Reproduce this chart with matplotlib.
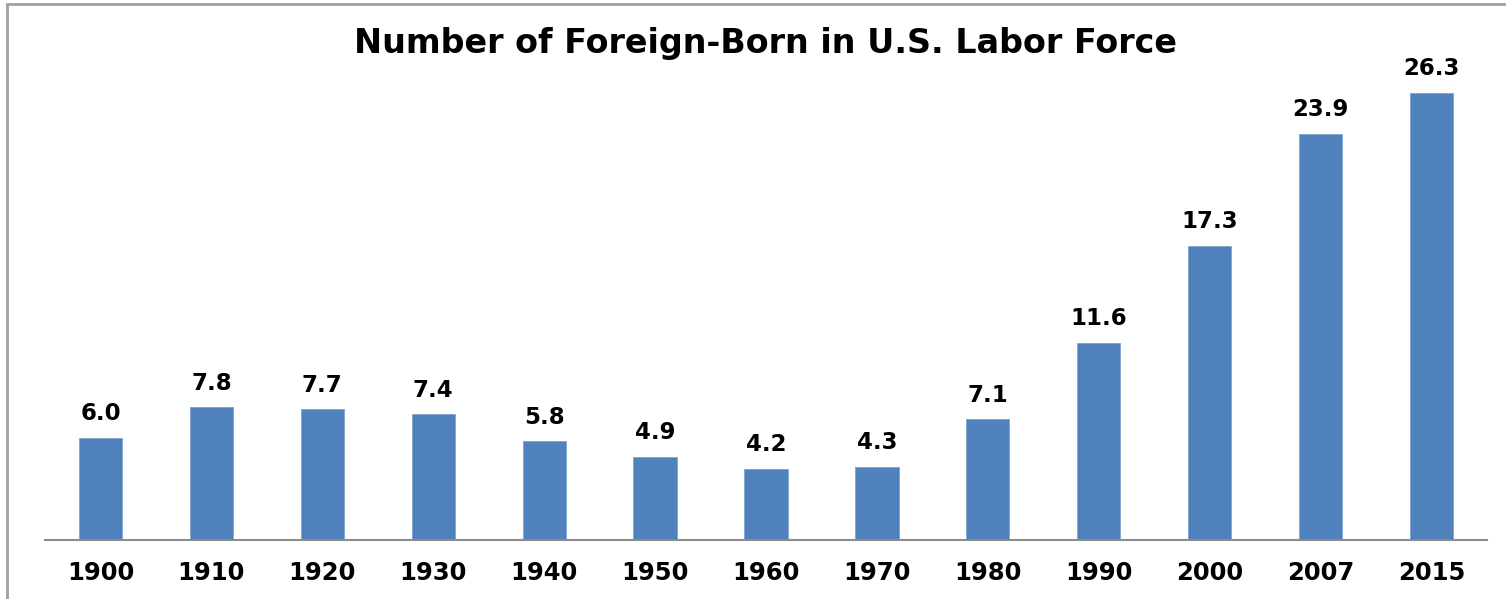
import matplotlib
matplotlib.use("Agg")
import matplotlib.pyplot as plt
from matplotlib.patches import Rectangle

years = ["1900", "1910", "1920", "1930", "1940", "1950", "1960", "1970", "1980", "1990", "2000", "2007", "2015"]
values = [6.0, 7.8, 7.7, 7.4, 5.8, 4.9, 4.2, 4.3, 7.1, 11.6, 17.3, 23.9, 26.3]
title = "Number of Foreign-Born in U.S. Labor Force"

W, H = 1506, 599
fig = plt.figure(figsize=(W / 100, H / 100), dpi=100)
fig.patch.set_facecolor("white")

# outer border (cropped at right and bottom)
fig.patches.append(Rectangle((7 / W, -0.1), 1.2, (H - 4) / H + 0.1, transform=fig.transFigure,
                             fill=False, edgecolor="#a0a0a0", linewidth=2))

left, right, bottom, top = 45, 1487, 540, 50
ax = fig.add_axes([left / W, (H - bottom) / H, (right - left) / W, (bottom - top) / H])
ymax = (bottom - top) / 17.0
x = list(range(len(years)))
ax.bar(x, values, width=0.39, color="#4F81BD", edgecolor="#7fa3d0", linewidth=0.6, zorder=2)
ax.set_xlim(-0.5, len(years) - 0.5)
ax.set_ylim(0, ymax)
for s in ["left", "right", "top"]:
    ax.spines[s].set_visible(False)
ax.spines["bottom"].set_color("#8c8c8c")
ax.spines["bottom"].set_linewidth(1.5)
ax.set_yticks([])
ax.set_xticks(x)
ax.set_xticklabels(years, fontsize=17.5, fontweight="bold", family="DejaVu Sans")
ax.tick_params(axis="x", length=0, pad=15)
for xi, v in zip(x, values):
    ax.annotate(f"{v:.1f}", (xi, v), xytext=(0, 9), textcoords="offset points",
                ha="center", va="bottom", fontsize=16.5, fontweight="bold", family="DejaVu Sans")

fig.text(765 / W, 1 - 44 / H, title, ha="center", va="center", fontsize=24,
         fontweight="bold", family="DejaVu Sans")

fig.savefig("out.png", dpi=100)
